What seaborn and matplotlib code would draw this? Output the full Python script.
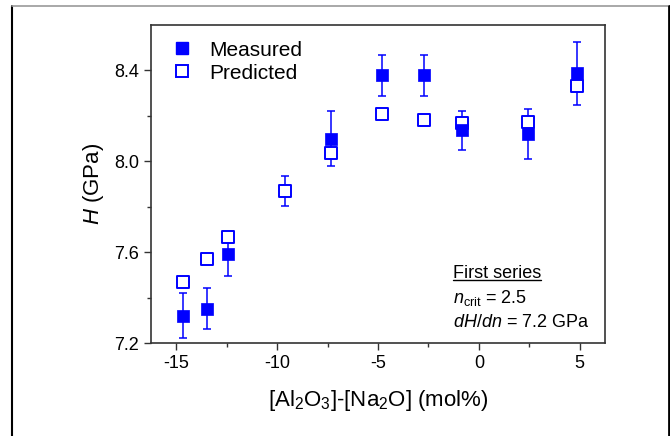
import matplotlib
matplotlib.use("Agg")
import numpy as np
import pandas as pd
import matplotlib.pyplot as plt
import seaborn as sns
from matplotlib.lines import Line2D

# data
meas_x = [-14.65, -13.47, -12.43, -7.33, -4.8, -2.72, -0.84, 2.43, 4.85]
meas_h = [7.32, 7.35, 7.59, 8.10, 8.378, 8.378, 8.136, 8.119, 8.387]
meas_err = [0.10, 0.09, 0.095, 0.12, 0.09, 0.09, 0.085, 0.11, 0.14]

pred_x = [-14.65, -13.47, -12.43, -9.62, -7.33, -4.8, -2.72, -0.84, 2.43, 4.85]
pred_h = [7.468, 7.569, 7.666, 7.869, 8.036, 8.21, 8.18, 8.167, 8.175, 8.33]
pred_err_x = [-9.62]
pred_err_h = [7.869]
pred_err = [0.065]

blue = "#0000ff"

sns.set_theme(style="ticks")
plt.rcParams["font.family"] = ["Liberation Sans", "DejaVu Sans"]
plt.rcParams["mathtext.fontset"] = "custom"
plt.rcParams["mathtext.rm"] = "Liberation Sans"
plt.rcParams["mathtext.it"] = "Liberation Sans:italic"
plt.rcParams["axes.unicode_minus"] = False
plt.rcParams["text.color"] = "black"
plt.rcParams["axes.labelcolor"] = "black"

fig = plt.figure(figsize=(6.7, 4.36), dpi=100)
ax = fig.add_axes([0.2254, 0.2133, 0.6776, 0.7294])

meas = pd.DataFrame({"x": meas_x, "H": meas_h})
pred = pd.DataFrame({"x": pred_x, "H": pred_h})

ax.errorbar(meas_x, meas_h, yerr=meas_err, fmt="none", ecolor=blue,
            elinewidth=1.1, capsize=3, capthick=1.1, zorder=1)
ax.errorbar(pred_err_x, pred_err_h, yerr=pred_err, fmt="none", ecolor=blue,
            elinewidth=1.1, capsize=3, capthick=1.1, zorder=1)

sns.scatterplot(data=pred, x="x", y="H", marker="s", s=75, facecolor="white",
                edgecolor=blue, linewidth=1.4, ax=ax, zorder=3)
sns.scatterplot(data=meas, x="x", y="H", marker="s", s=85, color=blue,
                edgecolor=blue, linewidth=0.5, ax=ax, zorder=4)

ax.set_xlim(-16.25, 6.25)
ax.set_ylim(7.2, 8.6)
ax.set_xticks([-15, -10, -5, 0, 5])
ax.set_xticks(np.arange(-12.5, 6, 5), minor=True)
ax.set_yticks([7.2, 7.6, 8.0, 8.4])
ax.set_yticks([7.4, 7.8, 8.2], minor=True)
ax.set_yticklabels(["7.2", "7.6", "8.0", "8.4"])
ax.tick_params(which="major", direction="out", length=5, width=1,
               labelsize=13, colors="#333333", labelcolor="black")
ax.tick_params(which="minor", direction="out", length=3, width=1, colors="#333333")
for sp in ax.spines.values():
    sp.set_color("#333333")
    sp.set_linewidth(1.2)

ax.set_xlabel("[Al$_2$O$_3$]-[Na$_2$O] (mol%)", fontsize=16, labelpad=12)
ax.set_ylabel("$H$ (GPa)", fontsize=16, labelpad=6)

handles = [
    Line2D([], [], marker="s", ls="none", color=blue, markersize=9),
    Line2D([], [], marker="s", ls="none", markerfacecolor="white",
           markeredgecolor=blue, markeredgewidth=1.4, markersize=8.5),
]
leg = ax.legend(handles, ["Measured", "Predicted"], loc="upper left",
                bbox_to_anchor=(0.005, 1.01), frameon=False, fontsize=15,
                handlelength=1.0, handletextpad=0.8, labelspacing=0.2)
for t in leg.get_texts():
    t.set_color("black")

t1 = ax.text(0.665, 0.22, "First series", transform=ax.transAxes,
             fontsize=13, va="center", ha="left")
ax.text(0.665, 0.1415, "$n_{\\rm crit}$ = 2.5", transform=ax.transAxes,
        fontsize=13, va="center", ha="left")
ax.text(0.665, 0.063, "$dH/dn$ = 7.2 GPa", transform=ax.transAxes,
        fontsize=13, va="center", ha="left")

# underline "First series"
fig.canvas.draw()
bb = t1.get_window_extent().transformed(ax.transAxes.inverted())
ax.plot([bb.x0, bb.x1], [bb.y0 + 0.005, bb.y0 + 0.005], color="black",
        lw=1, transform=ax.transAxes, clip_on=False)

# outer frame
fig.add_artist(Line2D([12 / 670, 12 / 670], [0, 1 - 6 / 436], color="black", lw=1.5))
fig.add_artist(Line2D([12 / 670, 1.0], [1 - 6 / 436, 1 - 6 / 436], color="#999999", lw=1.2))
fig.add_artist(Line2D([668.5 / 670, 668.5 / 670], [0, 1 - 6 / 436], color="black", lw=2))

fig.savefig("out.png", dpi=100)
